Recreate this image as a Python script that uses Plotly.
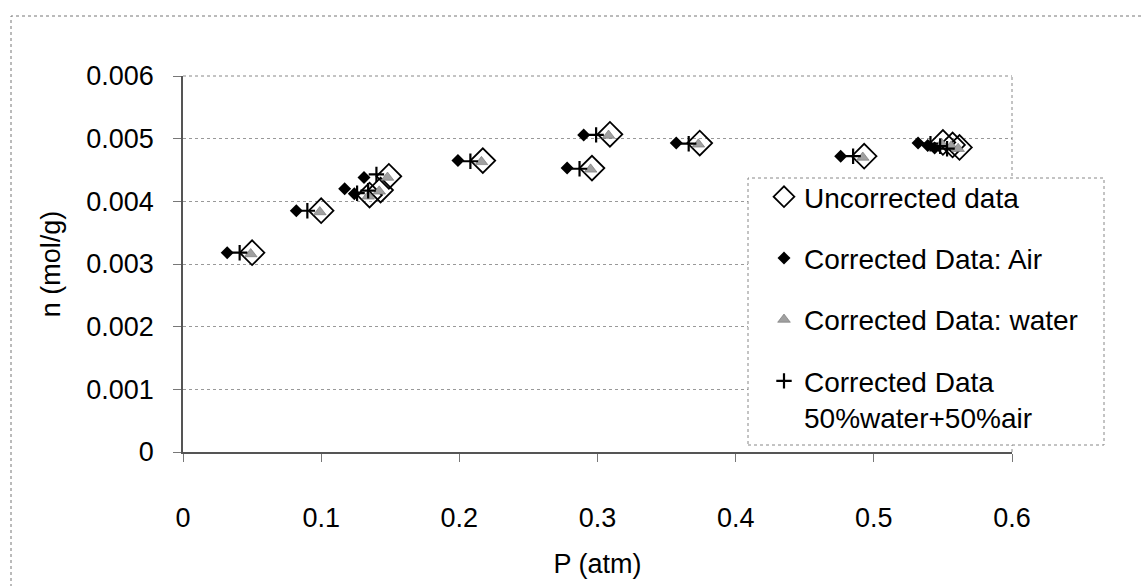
import plotly.graph_objects as go

# ---- data ----
P_uncorrected = [0.050, 0.100, 0.135, 0.143, 0.149, 0.217, 0.296, 0.309, 0.374, 0.493, 0.550, 0.557, 0.562]
n_uncorrected = [0.00318, 0.00385, 0.00410, 0.00418, 0.00440, 0.00465, 0.00453, 0.00507, 0.00493, 0.00472, 0.00494, 0.00490, 0.00486]

P_air = [0.032, 0.082, 0.117, 0.124, 0.131, 0.199, 0.278, 0.290, 0.357, 0.476, 0.532, 0.539, 0.544]
n_air = [0.00318, 0.00385, 0.00420, 0.00412, 0.00438, 0.00465, 0.00453, 0.00506, 0.00493, 0.00472, 0.00493, 0.00489, 0.00485]

P_water = [0.049, 0.099, 0.134, 0.142, 0.148, 0.216, 0.295, 0.308, 0.373, 0.492, 0.549, 0.556, 0.561]
n_water = [0.00316, 0.00383, 0.00408, 0.00416, 0.00438, 0.00463, 0.00451, 0.00505, 0.00491, 0.00470, 0.00492, 0.00488, 0.00484]

P_mix = [0.041, 0.090, 0.126, 0.134, 0.140, 0.208, 0.287, 0.299, 0.366, 0.485, 0.541, 0.548, 0.553]
n_mix = [0.00318, 0.00385, 0.00413, 0.00417, 0.00443, 0.00464, 0.00452, 0.00506, 0.00492, 0.00472, 0.00492, 0.00488, 0.00484]

x_ticks = [0, 0.1, 0.2, 0.3, 0.4, 0.5, 0.6]
x_tick_labels = ["0", "0.1", "0.2", "0.3", "0.4", "0.5", "0.6"]
y_ticks = [0, 0.001, 0.002, 0.003, 0.004, 0.005, 0.006]
y_tick_labels = ["0", "0.001", "0.002", "0.003", "0.004", "0.005", "0.006"]

names = ["Uncorrected data", "Corrected Data: Air", "Corrected Data: water",
         "Corrected Data<br>50%water+50%air"]

FONT = "Liberation Sans, Arial, sans-serif"
W, H = 1144, 586
L, R, T, B = 183, 132, 76, 134
PW, PH = W - L - R, H - T - B


def px_x(p):
    return (p - L) / PW


def px_y(p):
    return (H - B - p) / PH


fig = go.Figure()
fig.add_trace(go.Scatter(
    x=P_uncorrected, y=n_uncorrected, mode="markers", name=names[0], legendgroup="a",
    marker=dict(symbol="diamond-open", size=19, color="black", line=dict(width=1.8, color="black"))))
fig.add_trace(go.Scatter(
    x=P_air, y=n_air, mode="markers", name=names[1], legendgroup="b",
    marker=dict(symbol="diamond", size=10, color="black", line=dict(width=0))))
fig.add_trace(go.Scatter(
    x=P_water, y=n_water, mode="markers", name=names[2], legendgroup="c",
    marker=dict(symbol="triangle-up", size=11, color="#a0a0a0", line=dict(width=0.6, color="#707070"))))
fig.add_trace(go.Scatter(
    x=P_mix, y=n_mix, mode="markers", name=names[3], legendgroup="d",
    marker=dict(symbol="cross-thin", size=11, color="black", line=dict(width=2.2, color="black"))))

shapes = [
    # outer chart border (dotted)
    dict(type="rect", xref="paper", yref="paper",
         x0=px_x(11), x1=px_x(1160), y0=px_y(600), y1=px_y(16),
         line=dict(color="#777777", width=1, dash="dot"), layer="below"),
    # plot area top & right borders
    dict(type="line", xref="paper", yref="paper", x0=0, x1=1, y0=1, y1=1,
         line=dict(color="#888888", width=1, dash="dot")),
    dict(type="line", xref="paper", yref="paper", x0=1, x1=1, y0=0, y1=1,
         line=dict(color="#888888", width=1, dash="dot")),
    # legend box
    dict(type="rect", xref="paper", yref="paper",
         x0=px_x(748), x1=px_x(1104), y0=px_y(445), y1=px_y(178),
         fillcolor="white", line=dict(color="#888888", width=1, dash="dot"), layer="above"),
]

fig.update_layout(
    width=W, height=H,
    margin=dict(l=L, r=R, t=T, b=B),
    paper_bgcolor="white", plot_bgcolor="white",
    font=dict(family=FONT, size=27, color="black"),
    showlegend=True,
    legend=dict(x=px_x(764), y=px_y(172), xanchor="left", yanchor="top",
                bgcolor="rgba(0,0,0,0)", borderwidth=0,
                font=dict(family=FONT, size=28, color="black"),
                tracegroupgap=22, itemsizing="trace", valign="top"),
    shapes=shapes,
    xaxis=dict(range=[0, 0.6], tickvals=x_ticks, ticktext=x_tick_labels,
               showgrid=False, zeroline=False,
               showline=True, linecolor="#555555", linewidth=1.5,
               ticks="outside", ticklen=8, tickcolor="#777777", tickwidth=1,
               ticklabelstandoff=33,
               title=dict(text="P (atm)", font=dict(size=27), standoff=22)),
    yaxis=dict(range=[0, 0.006], tickvals=y_ticks, ticktext=y_tick_labels,
               showgrid=True, gridcolor="#999999", griddash="dot", gridwidth=1,
               zeroline=False,
               showline=True, linecolor="#555555", linewidth=1.5,
               ticks="outside", ticklen=8, tickcolor="#777777", tickwidth=1,
               ticklabelstandoff=14,
               title=dict(text="n (mol/g)", font=dict(size=27), standoff=18)),
)

fig.write_html("out.html")
